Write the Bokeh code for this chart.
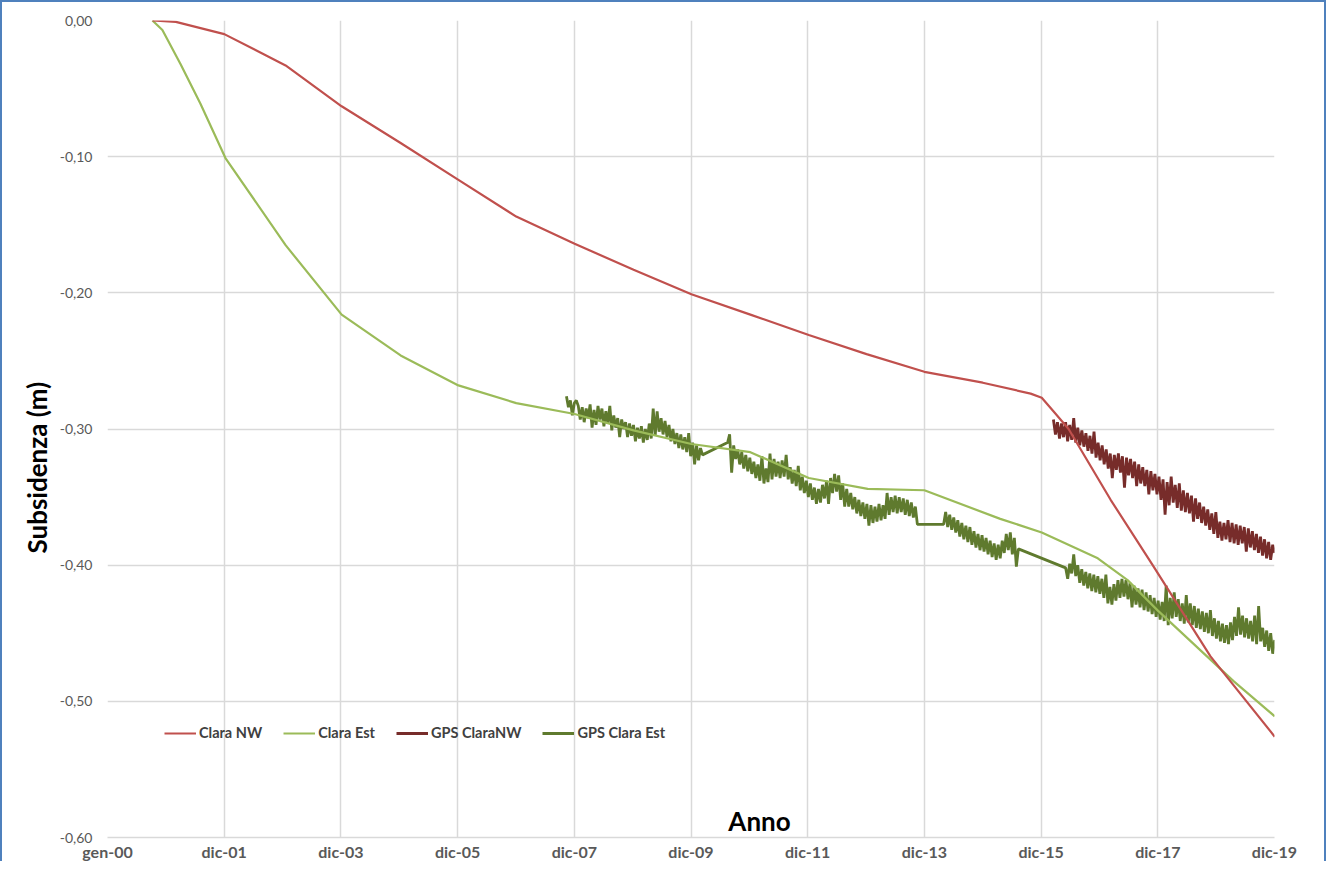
import numpy as np
from bokeh.plotting import figure
from bokeh.models import (FixedTicker, CustomJSTickFormatter, Legend, LegendItem,
                          Label, Range1d, Title)
from bokeh.embed import file_html
from bokeh.resources import INLINE

DAYS_PER_YEAR = 365.25

# ---------------- data (decimal years, metres) ----------------
clara_nw_year = [2000.77, 2001.17, 2002.00, 2003.05, 2004.01, 2005.02, 2006.01, 2007.00,
                 2008.00, 2009.01, 2010.00, 2011.01, 2012.01, 2013.00, 2013.99, 2014.99,
                 2015.81, 2016.00, 2016.20, 2016.46, 2017.18, 2017.90, 2018.89, 2019.99]
clara_nw_val = [0.000, -0.001, -0.010, -0.033, -0.063, -0.090, -0.117, -0.144,
                -0.164, -0.183, -0.201, -0.216, -0.231, -0.245, -0.258, -0.266,
                -0.274, -0.277, -0.287, -0.300, -0.352, -0.400, -0.467, -0.526]

clara_est_year = [2000.77, 2000.94, 2001.25, 2001.59, 2002.02, 2003.05, 2004.01, 2005.02,
                  2006.01, 2007.00, 2008.00, 2009.01, 2010.00, 2011.01, 2012.01, 2013.02,
                  2013.99, 2015.29, 2016.00, 2016.96, 2017.47, 2017.98, 2019.28, 2019.99]
clara_est_val = [0.000, -0.007, -0.032, -0.061, -0.101, -0.165, -0.216, -0.246,
                 -0.268, -0.281, -0.289, -0.301, -0.311, -0.317, -0.336, -0.344,
                 -0.345, -0.366, -0.376, -0.395, -0.411, -0.433, -0.485, -0.511]

# GPS series (values in millimetres, regularly sampled between start and end year)
gps_nw_span = (2016.20, 2019.99)
gps_nw_mm = [-293, -304, -295, -307, -296, -306, -295, -309, -297, -308,
             -292, -310, -299, -312, -301, -313, -303, -316, -305, -318,
             -302, -321, -310, -323, -312, -326, -315, -329, -318, -336,
             -319, -330, -318, -332, -320, -343, -321, -334, -322, -336,
             -324, -342, -326, -340, -328, -342, -330, -348, -331, -345,
             -333, -348, -335, -352, -337, -363, -339, -356, -335, -354,
             -341, -358, -340, -360, -345, -361, -347, -362, -349, -368,
             -351, -366, -354, -369, -357, -371, -359, -374, -362, -377,
             -361, -380, -368, -382, -369, -381, -367, -383, -369, -384,
             -370, -385, -371, -384, -372, -390, -373, -387, -375, -389,
             -377, -391, -379, -393, -381, -395, -383, -396, -385, -391]

gps_est_seg1_span = (2007.86, 2010.19)
gps_est_seg1_mm = [-276, -284, -279, -290, -281, -279, -283, -293, -284, -295,
                   -285, -292, -282, -299, -286, -297, -283, -293, -285, -298,
                   -287, -296, -283, -301, -290, -299, -292, -306, -293, -300,
                   -295, -306, -296, -305, -297, -309, -299, -307, -298, -310,
                   -300, -308, -296, -307, -285, -305, -287, -302, -292, -304,
                   -294, -306, -297, -309, -300, -311, -303, -314, -304, -315,
                   -306, -317, -303, -320, -310, -326, -312, -323, -314, -319]
gps_est_seg2_span = (2010.62, 2013.87)
gps_est_seg2_mm = [-310, -304, -332, -312, -322, -315, -326, -317, -329, -319,
                   -331, -321, -333, -324, -336, -326, -338, -320, -340, -329,
                   -339, -318, -337, -322, -335, -324, -336, -323, -335, -319,
                   -337, -328, -340, -330, -342, -327, -345, -335, -347, -338,
                   -350, -340, -352, -343, -355, -344, -354, -341, -351, -338,
                   -355, -336, -347, -333, -346, -334, -352, -340, -357, -344,
                   -357, -347, -359, -350, -362, -352, -364, -354, -366, -355,
                   -371, -356, -369, -357, -368, -355, -367, -356, -366, -347,
                   -363, -350, -361, -349, -362, -350, -361, -351, -363, -352,
                   -364, -354, -365, -357, -370]
gps_est_seg3_span = (2014.32, 2015.60)
gps_est_seg3_mm = [-370, -361, -372, -363, -374, -365, -376, -367, -379, -369,
                   -381, -371, -383, -372, -385, -375, -387, -377, -389, -378,
                   -390, -380, -392, -382, -394, -384, -396, -385, -395, -382,
                   -391, -377, -389, -376, -392, -380, -401, -388]
gps_est_seg4_span = (2016.41, 2019.99)
gps_est_seg4_mm = [-402, -410, -399, -406, -392, -408, -400, -413, -403, -415,
                   -405, -417, -406, -419, -407, -420, -408, -421, -410, -424,
                   -407, -428, -416, -429, -414, -426, -411, -424, -410, -423,
                   -411, -425, -413, -431, -415, -429, -417, -431, -418, -433,
                   -420, -434, -422, -436, -424, -438, -426, -440, -427, -441,
                   -415, -444, -424, -439, -420, -438, -425, -441, -428, -443,
                   -422, -442, -428, -444, -430, -446, -432, -447, -434, -449,
                   -435, -450, -433, -452, -439, -454, -441, -456, -443, -457,
                   -444, -458, -442, -455, -438, -452, -431, -451, -437, -453,
                   -439, -454, -441, -456, -437, -458, -430, -456, -446, -460,
                   -448, -463, -450, -465, -455]

x_tick_labels = ["gen-00", "dic-01", "dic-03", "dic-05", "dic-07", "dic-09",
                 "dic-11", "dic-13", "dic-15", "dic-17", "dic-19"]
x_tick_step_days = 730
y_ticks = [0.0, -0.1, -0.2, -0.3, -0.4, -0.5, -0.6]

series_names = ["Clara NW", "Clara Est", "GPS ClaraNW", "GPS Clara Est"]
series_colors = ["#C0504D", "#9BBB59", "#772C2A", "#5F7A2E"]


def to_days(years):
    return [(y - 2000.0) * DAYS_PER_YEAR for y in years]


def sampled(span, vals):
    return list(np.linspace(span[0], span[1], len(vals)))


def mm_to_m(vals):
    return [v / 1000.0 for v in vals]


gps_nw_year = sampled(gps_nw_span, gps_nw_mm)
gps_nw_val = mm_to_m(gps_nw_mm)
gps_est_year = (sampled(gps_est_seg1_span, gps_est_seg1_mm) + sampled(gps_est_seg2_span, gps_est_seg2_mm)
                + sampled(gps_est_seg3_span, gps_est_seg3_mm) + sampled(gps_est_seg4_span, gps_est_seg4_mm))
gps_est_val = mm_to_m(gps_est_seg1_mm + gps_est_seg2_mm + gps_est_seg3_mm + gps_est_seg4_mm)

# ---------------- figure ----------------
FONT = "Lato"
x_end = x_tick_step_days * (len(x_tick_labels) - 1)

p = figure(width=1326, height=861, output_backend="svg", toolbar_location=None,
           x_range=Range1d(0, x_end), y_range=Range1d(-0.6, 0.0),
           min_border_left=105, min_border_right=54, min_border_top=18, min_border_bottom=26,
           background_fill_color="white", border_fill_color="white")
p.styles = {"border-left": "2px solid #4F81BD", "border-top": "2px solid #4F81BD",
            "border-right": "2px solid #4F81BD"}
p.outline_line_color = None

# axes
xt = [i * x_tick_step_days for i in range(len(x_tick_labels))]
p.xaxis.ticker = FixedTicker(ticks=xt)
p.xaxis.major_label_overrides = {t: lab for t, lab in zip(xt, x_tick_labels)}
p.xaxis.major_label_text_font = FONT
p.xaxis.major_label_text_font_style = "bold"
p.xaxis.major_label_text_font_size = "16px"
p.xaxis.major_label_text_color = "#595959"
p.xaxis.major_label_standoff = 4
p.xaxis.major_tick_out = 0
p.xaxis.major_tick_in = 0
p.xaxis.major_tick_line_color = None
p.xaxis.minor_tick_line_color = None
p.xaxis.axis_line_color = "#D9D9D9"
p.xaxis.axis_line_width = 1.5

p.yaxis.ticker = FixedTicker(ticks=y_ticks)
p.yaxis.formatter = CustomJSTickFormatter(code="return tick.toFixed(2).replace('.', ',');")
p.yaxis.major_label_text_font = FONT
p.yaxis.major_label_text_font_size = "14px"
p.yaxis.major_label_text_color = "#595959"
p.yaxis.major_label_standoff = 15
p.yaxis.major_tick_out = 0
p.yaxis.major_tick_in = 0
p.yaxis.major_tick_line_color = None
p.yaxis.minor_tick_line_color = None
p.yaxis.axis_line_color = None

p.xgrid.ticker = FixedTicker(ticks=xt)
p.xgrid.grid_line_color = "#D9D9D9"
p.xgrid.grid_line_width = 1.5
p.ygrid.ticker = FixedTicker(ticks=y_ticks)
p.ygrid.grid_line_color = "#D9D9D9"
p.ygrid.grid_line_width = 1.5

# series (GPS first, model curves on top)
r_gps_est = p.line(to_days(gps_est_year), gps_est_val, line_color=series_colors[3], line_width=2.8)
r_gps_nw = p.line(to_days(gps_nw_year), gps_nw_val, line_color=series_colors[2], line_width=2.8)
r_est = p.line(to_days(clara_est_year), clara_est_val, line_color=series_colors[1], line_width=2.2)
r_nw = p.line(to_days(clara_nw_year), clara_nw_val, line_color=series_colors[0], line_width=2.2)

legend = Legend(items=[LegendItem(label=series_names[0], renderers=[r_nw]),
                       LegendItem(label=series_names[1], renderers=[r_est]),
                       LegendItem(label=series_names[2], renderers=[r_gps_nw]),
                       LegendItem(label=series_names[3], renderers=[r_gps_est])],
                orientation="horizontal", location=(57, 96),
                background_fill_alpha=0, border_line_color=None,
                padding=0, margin=0, spacing=21, glyph_width=32, glyph_height=16,
                label_standoff=3, label_text_font=FONT, label_text_font_style="bold",
                label_text_font_size="14.5px", label_text_color="#404040",
                label_height=16)
p.add_layout(legend, "center")

# x-axis title sits inside the plot area, as in the original
p.add_layout(Label(x=(759 - 107) / 58.39 * DAYS_PER_YEAR, y=-0.588, text="Anno",
                   text_font=FONT, text_font_style="bold", text_font_size="26px",
                   text_color="black", text_align="center", text_baseline="middle"))
# y-axis title (offset from the bottom of the frame)
p.add_layout(Title(text="Subsidenza (m)", align="left", offset=284, standoff=8,
                   text_font=FONT, text_font_style="bold", text_font_size="26px",
                   text_color="black"), "left")

open("out.html", "w").write(file_html(p, INLINE))
